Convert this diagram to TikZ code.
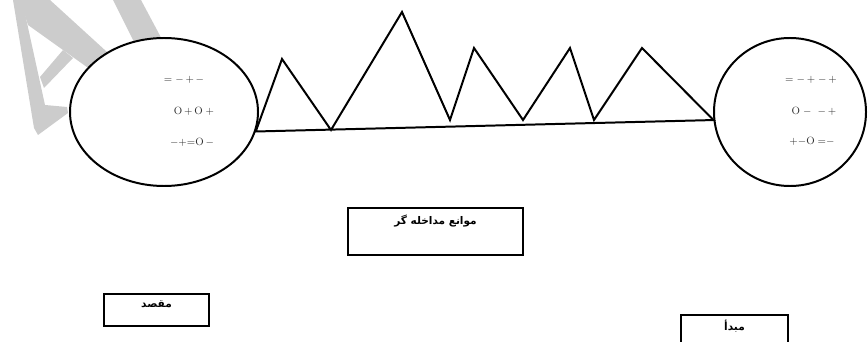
\documentclass[tikz,border=0pt]{standalone}
\usepackage{fontspec}
\usetikzlibrary{shapes.geometric, positioning}
\TeXXeTstate=1
\newfontfamily\arabicfont[Script=Arabic]{DejaVu Sans}
\definecolor{markgray}{RGB}{204,204,204}
\definecolor{signgray}{RGB}{45,45,45}
\tikzset{
  region/.style={ellipse, draw=black, fill=white, line width=1.7pt, inner sep=0pt},
  labelbox/.style={rectangle, draw=black, line width=1.7pt, inner sep=0pt},
  boxtxt/.style={font=\arabicfont\bfseries\fontsize{9}{10}\selectfont, inner sep=0pt},
  signs/.style={font=\small, text=signgray, inner sep=0pt},
  ridge/.style={line width=1.7pt, line join=miter},
}

\begin{document}
\begin{tikzpicture}[x=0.03cm, y=-0.03cm]
  \useasboundingbox (0,0) rectangle (868,342);
  \clip (0,0) rectangle (868,342);

  % Watermark letter
  \fill[markgray] (20,0) -- (50,0) -- (118,62) -- (98,75) -- (28,25) -- cycle;
  \fill[markgray] (13,0) -- (22,0) -- (45,105) -- (67,107) -- (68,113)
                  -- (38,135) -- (34,128) -- cycle;
  \fill[markgray] (40,77) -- (63,50) -- (73,58) -- (44,88) -- cycle;
  \fill[markgray] (113,0) -- (141,0) -- (165,45) -- (138,50) -- cycle;

  % Destination and origin regions
  \node[region, minimum width=5.64cm, minimum height=4.44cm] (dest) at (164,112) {};
  \node[region, minimum width=4.56cm, minimum height=4.44cm] (orig) at (790,112) {};

  \node[signs] (dsigA) at (184,80)  {${=}\;{-}\,{+}\,{-}$};
  \node[signs] (dsigB) at (194,111) {$\mathrm{O}\,{+}\,\mathrm{O}\;{+}$};
  \node[signs] (dsigC) at (192,142) {${-}{+}{=}\mathrm{O}\,{-}$};

  \node[signs] (osigA) at (811,80)  {${=}\;{-}\,{+}\;{-}\,{+}$};
  \node[signs] (osigB) at (814,111) {$\mathrm{O}\;{-}\;\;{-}\,{+}$};
  \node[signs] (osigC) at (812,141) {${+}{-}\mathrm{O}\;{=}{-}$};

  % Obstacles between the two regions
  \draw[ridge] (dest.-12) -- (282,59) -- (331,130) -- (402,12) -- (450,120)
       -- (474,48) -- (523,120) -- (570,48) -- (594,120) -- (642,48)
       -- (orig.186) -- cycle;

  % Caption boxes
  \node[labelbox, minimum width=5.25cm, minimum height=1.41cm] (obst) at (435.5,231.5) {};
  \node[boxtxt, below=0.22cm of obst.north] (obsttxt) {\arabicfont\beginR موانع مداخله گر\endR};

  \node[labelbox, minimum width=3.15cm, minimum height=0.96cm] (destbox) at (156.5,310) {};
  \node[boxtxt, below=0.22cm of destbox.north] (desttxt) {\arabicfont\beginR مقصد\endR};

  \node[labelbox, minimum width=3.21cm, minimum height=0.96cm] (origbox) at (734.5,331) {};
  \node[boxtxt, below=0.17cm of origbox.north] (origtxt) {\arabicfont\beginR مبدأ\endR};
\end{tikzpicture}
\end{document}
